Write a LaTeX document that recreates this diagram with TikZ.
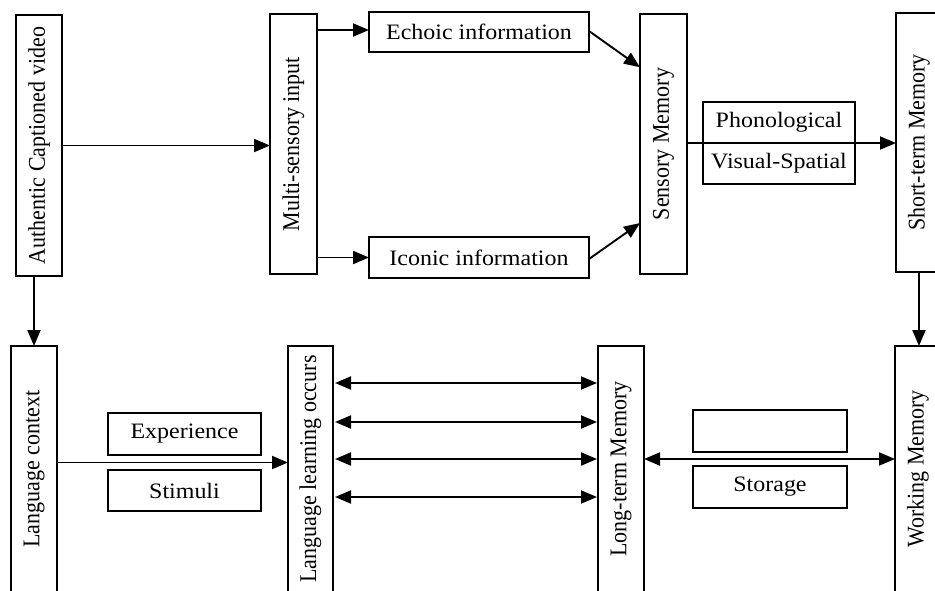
\documentclass[tikz,border=0pt]{standalone}
\usepackage{fontspec}
\setmainfont{Liberation Serif}
\usetikzlibrary{arrows.meta,calc}
\newcommand{\htx}[1]{\scalebox{1.09}[1]{#1}}
\newcommand{\vtx}[1]{\rotatebox{90}{\scalebox{1}[1.09]{#1}}}
\begin{document}
\begin{tikzpicture}[x=1pt,y=-1pt,
  box/.style={draw, line width=1.9pt, inner sep=0pt, outer sep=0pt, font=\fontsize{22}{26}\selectfont},
  arr/.style={-{Triangle[length=16pt,width=13pt]}, line width=1.9pt},
  darr/.style={{Triangle[length=16pt,width=13pt]}-{Triangle[length=16pt,width=13pt]}, line width=1.9pt}]
\useasboundingbox (0,0) rectangle (935,590);
\clip (0,0) rectangle (935,590);
% top row
\node[box, minimum width=46pt, minimum height=261pt] (auth) at (39,145.5) {\vtx{Authentic Captioned video}};
\node[box, minimum width=47pt, minimum height=260pt] (multi) at (293.5,144) {\vtx{Multi-sensory input}};
\node[box, minimum width=220pt, minimum height=40pt] (echo) at (479,32) {\htx{Echoic information}};
\node[box, minimum width=220pt, minimum height=41pt] (icon) at (479,257.5) {\htx{Iconic information}};
\node[box, minimum width=47pt, minimum height=260pt] (sens) at (663.5,144) {\vtx{Sensory Memory}};
\node[box, minimum width=152pt, minimum height=41pt] (phon) at (779,122.5) {\htx{Phonological}};
\node[box, minimum width=152pt, minimum height=41pt] (vis) at (779,163.5) {\htx{Visual-Spatial}};
\node[box, minimum width=46pt, minimum height=259pt] (stm) at (919,142.5) {\vtx{Short-term Memory}};
% bottom row
\node[box, minimum width=46pt, minimum height=246pt] (lc) at (34,469) {\vtx{Language context}};
\node[box, minimum width=153pt, minimum height=42pt] (exp) at (184.5,434) {\htx{Experience}};
\node[box, minimum width=153pt, minimum height=41pt] (stim) at (184.5,490.5) {\htx{Stimuli}};
\node[box, minimum width=45pt, minimum height=246pt] (llo) at (310.5,469) {\vtx{Language learning occurs}};
\node[box, minimum width=46pt, minimum height=246pt] (ltm) at (621,469) {\vtx{Long-term Memory}};
\node[box, minimum width=154pt, minimum height=42pt] (empty) at (770,431) {};
\node[box, minimum width=154pt, minimum height=42pt] (stor) at (770,487) {\htx{Storage}};
\node[box, minimum width=46pt, minimum height=246pt] (wm) at (918,469) {\vtx{Working Memory}};
% connectors top
\draw[arr] (auth.east) -- (auth.east -| multi.west);
\draw[arr] ($(multi.east |- echo.west)+(0,-2)$) -- ($(echo.west)+(0,-2)$);
\draw[arr] (multi.east |- icon.west) -- (icon.west);
\draw[arr] ($(echo.east)+(0,-1)$) -- ($(sens.north west)!0.205!(sens.south west)$);
\draw[arr] ($(icon.east)+(0,1.5)$) -- ($(sens.north west)!0.804!(sens.south west)$);
\draw[arr] ($(sens.east)+(0,-1)$) -- ($(sens.east -| stm.west)+(0,-1)$);
\draw[arr] (stm.south) -- (stm.south |- wm.north);
\draw[arr] (lc.north |- auth.south) -- (lc.north);
% connectors bottom
\coordinate (m1) at ($(exp.south)!0.5!(stim.north)$);
\draw[arr] (lc.east |- m1) -- (llo.west |- m1);
\draw[darr] ($(llo.north east)+(2,37)$) -- ($(ltm.north west)+(-1,37)$);
\draw[darr] ($(llo.north east)+(2,76)$) -- ($(ltm.north west)+(-1,76)$);
\draw[darr] ($(llo.north east)+(2,113)$) -- ($(ltm.north west)+(-1,113)$);
\draw[darr] ($(llo.north east)+(2,151)$) -- ($(ltm.north west)+(-1,151)$);
\coordinate (m2) at ($(empty.south)!0.5!(stor.north)$);
\draw[darr] (ltm.east |- m2) -- (wm.west |- m2);
\end{tikzpicture}
\end{document}
